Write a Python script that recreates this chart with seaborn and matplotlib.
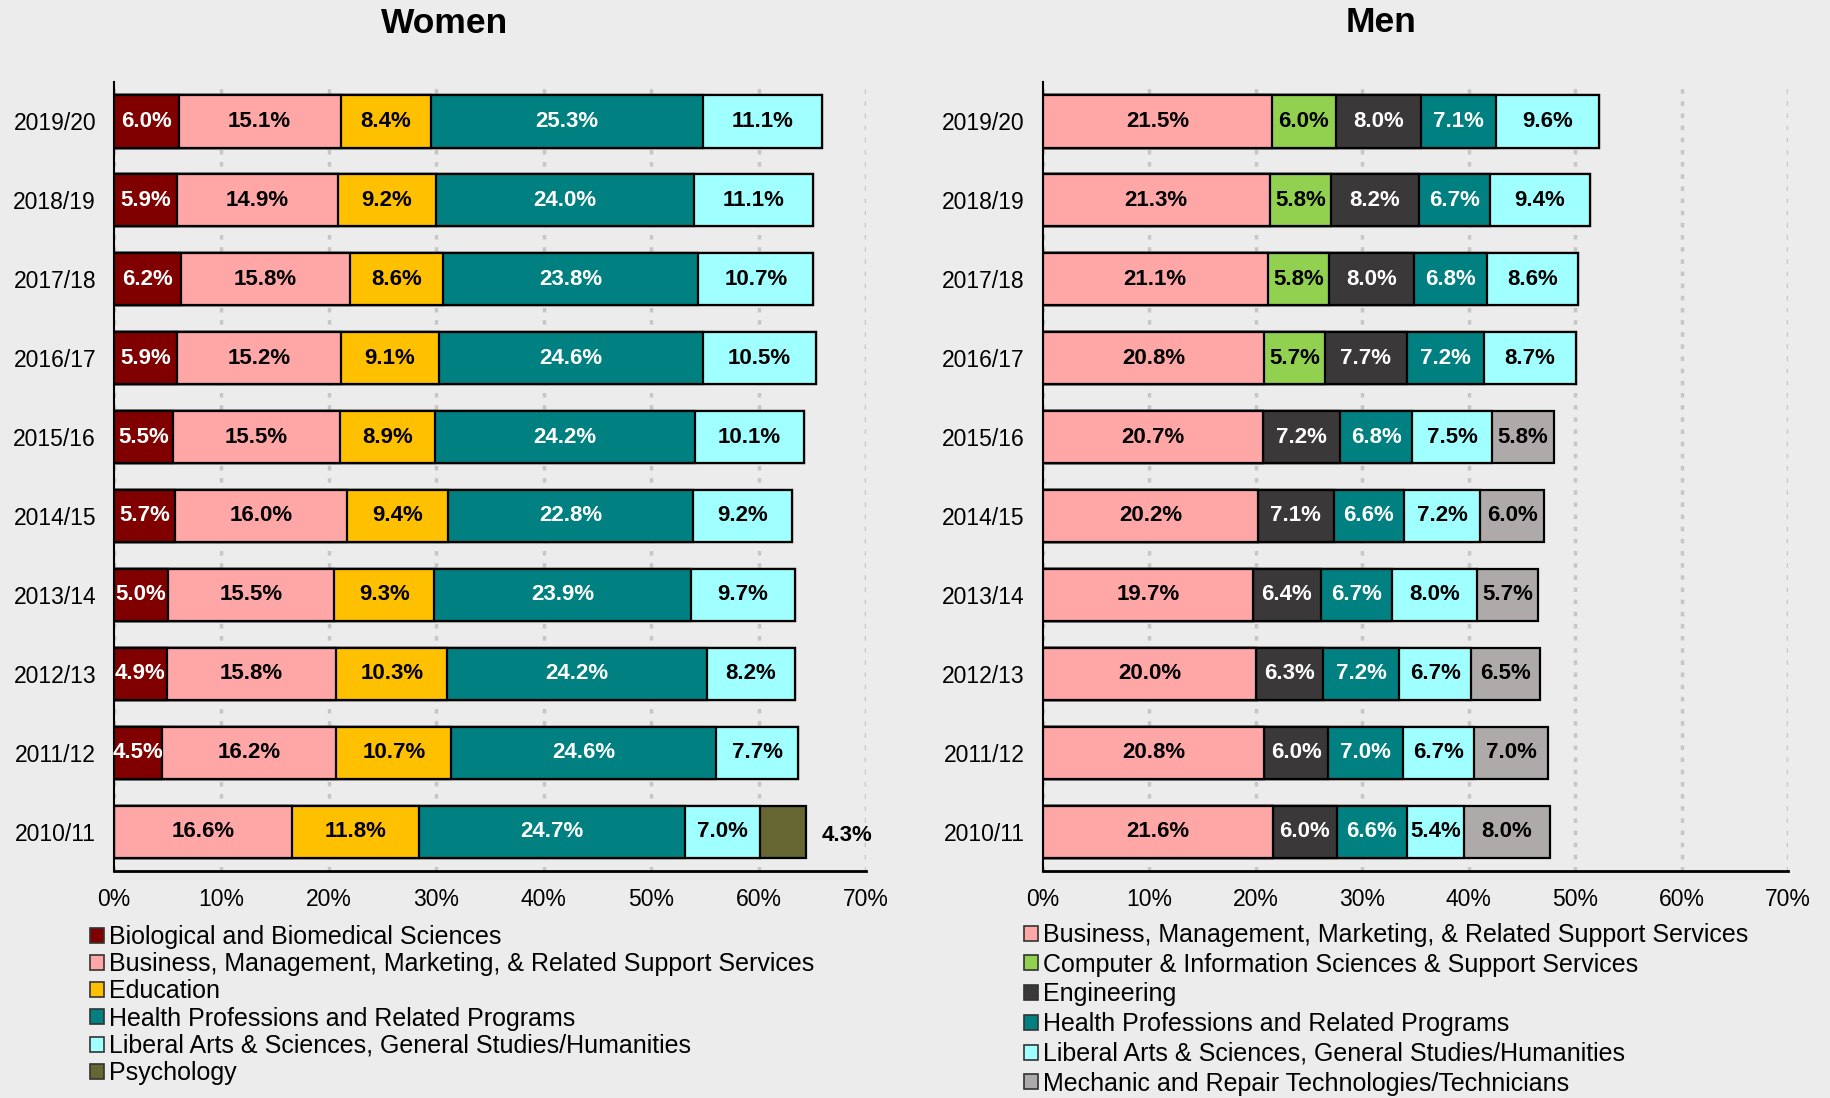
import numpy as np
import pandas as pd
import matplotlib
matplotlib.use("Agg")
import matplotlib.pyplot as plt
import seaborn as sns
from matplotlib.patches import Patch

# --- data (percent of degrees), rows top -> bottom ---
years = ["2019/20", "2018/19", "2017/18", "2016/17", "2015/16",
         "2014/15", "2013/14", "2012/13", "2011/12", "2010/11"]

women_fields = ["Biological and Biomedical Sciences",
                "Business, Management, Marketing, & Related Support Services",
                "Education",
                "Health Professions and Related Programs",
                "Liberal Arts & Sciences, General Studies/Humanities",
                "Psychology"]
women_bio = [6.0, 5.9, 6.2, 5.9, 5.5, 5.7, 5.0, 4.9, 4.5, np.nan]
women_bus = [15.1, 14.9, 15.8, 15.2, 15.5, 16.0, 15.5, 15.8, 16.2, 16.6]
women_edu = [8.4, 9.2, 8.6, 9.1, 8.9, 9.4, 9.3, 10.3, 10.7, 11.8]
women_health = [25.3, 24.0, 23.8, 24.6, 24.2, 22.8, 23.9, 24.2, 24.6, 24.7]
women_lib = [11.1, 11.1, 10.7, 10.5, 10.1, 9.2, 9.7, 8.2, 7.7, 7.0]
women_psych = [np.nan] * 9 + [4.3]

men_fields = ["Business, Management, Marketing, & Related Support Services",
              "Computer & Information Sciences & Support Services",
              "Engineering",
              "Health Professions and Related Programs",
              "Liberal Arts & Sciences, General Studies/Humanities",
              "Mechanic and Repair Technologies/Technicians"]
men_bus = [21.5, 21.3, 21.1, 20.8, 20.7, 20.2, 19.7, 20.0, 20.8, 21.6]
men_comp = [6.0, 5.8, 5.8, 5.7] + [np.nan] * 6
men_eng = [8.0, 8.2, 8.0, 7.7, 7.2, 7.1, 6.4, 6.3, 6.0, 6.0]
men_health = [7.1, 6.7, 6.8, 7.2, 6.8, 6.6, 6.7, 7.2, 7.0, 6.6]
men_lib = [9.6, 9.4, 8.6, 8.7, 7.5, 7.2, 8.0, 6.7, 6.7, 5.4]
men_mech = [np.nan] * 4 + [5.8, 6.0, 5.7, 6.5, 7.0, 8.0]

women_colors = ["#800000", "#FFA6A6", "#FFC000", "#008080", "#A0FFFF", "#666633"]
women_text = ["white", "black", "black", "white", "black", "black"]
men_colors = ["#FFA6A6", "#92D050", "#3A3838", "#008080", "#A0FFFF", "#AEAAAA"]
men_text = ["black", "black", "white", "white", "black", "black"]

BG = "#ececec"

sns.set_theme(style="white")
plt.rcParams["font.family"] = ["Liberation Sans", "DejaVu Sans"]
plt.rcParams["text.color"] = "black"
plt.rcParams["xtick.color"] = "black"
plt.rcParams["ytick.color"] = "black"

women = pd.DataFrame(dict(zip(women_fields, [women_bio, women_bus, women_edu,
                                             women_health, women_lib, women_psych])), index=years)
men = pd.DataFrame(dict(zip(men_fields, [men_bus, men_comp, men_eng,
                                         men_health, men_lib, men_mech])), index=years)

fig = plt.figure(figsize=(18.31, 10.98), dpi=100, facecolor=BG)
ax_w = fig.add_axes([0.0623, 0.2067, 0.4107, 0.7186])
ax_m = fig.add_axes([0.5696, 0.2067, 0.4069, 0.7186])

LABEL_FS = 16


def draw_panel(ax, df, colors, text_colors):
    ax.set_facecolor(BG)
    cum = df.fillna(0).cumsum(axis=1)
    cum["year"] = df.index
    # overlay cumulative bars, longest first
    for i in range(len(df.columns) - 1, -1, -1):
        col = df.columns[i]
        sns.barplot(data=cum, x=col, y="year", order=years, orient="h",
                    color=colors[i], saturation=1, edgecolor="black",
                    linewidth=1.6, width=0.66, errorbar=None, ax=ax, zorder=3)
    # segment labels
    starts = cum[df.columns].shift(1, axis=1).fillna(0)
    for r, yr in enumerate(years):
        for i, col in enumerate(df.columns):
            v = df.loc[yr, col]
            if np.isnan(v) or col == "Psychology":
                continue
            x0 = starts.loc[yr, col]
            ax.text(x0 + v / 2, r, f"{v:.1f}%", ha="center", va="center",
                    fontsize=LABEL_FS, fontweight="bold", color=text_colors[i], zorder=5)
    ax.set_xlim(0, 70)
    ax.set_ylim(9.5, -0.5)
    ax.set_xticks(range(0, 71, 10))
    ax.set_xticklabels([f"{t}%" for t in range(0, 71, 10)])
    ax.xaxis.grid(True, color="#c6c6c6", linestyle=(0, (1.3, 2.2)), linewidth=2.5, zorder=0)
    ax.yaxis.grid(False)
    ax.set_axisbelow(True)
    ax.set_xlabel("")
    ax.set_ylabel("")
    ax.tick_params(axis="x", length=0, pad=12, labelsize=16.5)
    ax.tick_params(axis="y", length=0, pad=13, labelsize=16.5)
    for s in ["top", "right"]:
        ax.spines[s].set_visible(False)
    ax.spines["left"].set_color("black")
    ax.spines["left"].set_linewidth(1.5)
    ax.spines["bottom"].set_color("black")
    ax.spines["bottom"].set_linewidth(2)


draw_panel(ax_w, women, women_colors, women_text)
draw_panel(ax_m, men, men_colors, men_text)

# Psychology 2010/11 label sits outside the bar
psych_end = women.loc["2010/11"].fillna(0).sum()
ax_w.text(psych_end + 1.5, years.index("2010/11") + 0.05, f"{women_psych[-1]:.1f}%",
          ha="left", va="center", fontsize=LABEL_FS, fontweight="bold", color="black")

fig.text(445 / 1831, 1 - 33 / 1098, "Women", ha="center", va="baseline",
         fontsize=25.5, fontweight="bold")
fig.text(1381 / 1831, 1 - 32 / 1098, "Men", ha="center", va="baseline",
         fontsize=25.5, fontweight="bold")


def add_legend(fields, colors, x, y, spacing):
    handles = [Patch(facecolor=c, edgecolor="#333333", linewidth=1.2) for c in colors]
    fig.legend(handles, fields, loc="upper left", bbox_to_anchor=(x, y),
               bbox_transform=fig.transFigure, frameon=False, fontsize=18,
               handlelength=0.55, handleheight=0.55, handletextpad=0.2,
               labelspacing=spacing, borderaxespad=0, borderpad=0)


add_legend(women_fields, women_colors, 90 / 1831, 1 - 925 / 1098, 0.13)
add_legend(men_fields, men_colors, 1024 / 1831, 1 - 923 / 1098, 0.23)

fig.savefig("out.png", dpi=100, facecolor=BG)
